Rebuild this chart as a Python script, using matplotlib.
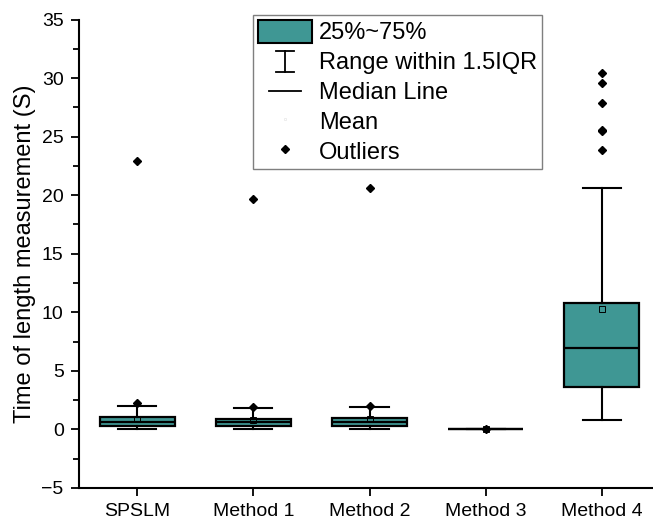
import matplotlib
matplotlib.use("Agg")
import matplotlib.pyplot as plt
from matplotlib.lines import Line2D
from matplotlib.patches import Patch
from matplotlib.legend_handler import HandlerBase
from matplotlib.ticker import MultipleLocator

plt.rcParams['font.family'] = ['Liberation Sans', 'DejaVu Sans']

# box statistics per method (seconds)
methods = ['SPSLM', 'Method 1', 'Method 2', 'Method 3', 'Method 4']
q1s = [0.28, 0.28, 0.28, 0.02, 3.59]
medians = [0.62, 0.60, 0.62, 0.02, 6.92]
q3s = [1.05, 0.90, 1.00, 0.02, 10.77]
whis_lo = [0.06, 0.05, 0.05, 0.02, 0.77]
whis_hi = [2.00, 1.82, 1.88, 0.02, 20.60]
means = [0.90, 0.80, 0.85, 0.02, 10.26]
outliers = [
    [2.28, 22.90],
    [1.90, 19.70],
    [2.00, 20.60],
    [0.02],
    [23.90, 25.45, 25.60, 27.90, 29.60, 30.45],
]

TEAL = '#3f9794'

stats = []
for i, name in enumerate(methods):
    stats.append(dict(label=name, q1=q1s[i], med=medians[i], q3=q3s[i],
                      whislo=whis_lo[i], whishi=whis_hi[i], mean=means[i],
                      fliers=outliers[i]))

fig = plt.figure(figsize=(6.53, 5.21), dpi=100)
ax = fig.add_axes([79 / 653, 33 / 521, 581 / 653, 468.5 / 521])

ax.bxp(stats, positions=range(1, 6), widths=0.645, capwidths=0.33,
       patch_artist=True, showmeans=True,
       boxprops=dict(facecolor=TEAL, edgecolor='black', linewidth=1.6),
       medianprops=dict(color='black', linewidth=1.6),
       whiskerprops=dict(color='black', linewidth=1.5),
       capprops=dict(color='black', linewidth=1.5),
       flierprops=dict(marker='D', markersize=4, markerfacecolor='black',
                       markeredgecolor='black'),
       meanprops=dict(marker='s', markersize=4.5, markerfacecolor='none',
                      markeredgecolor='black', markeredgewidth=0.7))

ax.set_xlim(0.5, 5.5)
ax.set_ylim(-5, 35)
ax.yaxis.set_major_locator(MultipleLocator(5))
ax.yaxis.set_minor_locator(MultipleLocator(2.5))
ax.set_xticks(range(1, 6))
ax.set_xticklabels(methods)
ax.tick_params(axis='both', which='major', direction='out', length=6,
               width=1.3, labelsize=14, pad=5)
ax.tick_params(axis='y', which='minor', direction='out', length=4, width=1.3)
ax.set_ylabel('Time of length measurement (S)', fontsize=17, labelpad=4)
ax.spines['top'].set_visible(False)
ax.spines['right'].set_visible(False)
ax.spines['left'].set_linewidth(1.5)
ax.spines['bottom'].set_linewidth(1.5)


class IBeamHandler(HandlerBase):
    """legend key shaped like a whisker with caps"""
    def create_artists(self, legend, orig_handle, xdescent, ydescent,
                       width, height, fontsize, trans):
        cx = width / 2 - xdescent
        lo, hi = -ydescent + 1, height - ydescent - 1
        half = width * 0.16
        lines = [
            Line2D([cx, cx], [lo, hi]),
            Line2D([cx - half, cx + half], [lo, lo]),
            Line2D([cx - half, cx + half], [hi, hi]),
        ]
        for ln in lines:
            ln.set_color('black')
            ln.set_linewidth(1.3)
            ln.set_transform(trans)
        return lines


class ShortLineHandler(HandlerBase):
    """short horizontal key for the median line"""
    def create_artists(self, legend, orig_handle, xdescent, ydescent,
                       width, height, fontsize, trans):
        cx = width / 2 - xdescent
        cy = height / 2 - ydescent
        half = width * 0.3
        ln = Line2D([cx - half, cx + half], [cy, cy], color='black',
                    linewidth=1.3, transform=trans)
        return [ln]


whisker_key = object()
median_key = object()
handles = [
    Patch(facecolor=TEAL, edgecolor='black', linewidth=1.5),
    whisker_key,
    median_key,
    Line2D([], [], linestyle='none', marker='s', markersize=2,
           markerfacecolor='none', markeredgecolor='#e6e6e6', markeredgewidth=0.5),
    Line2D([], [], linestyle='none', marker='D', markersize=4,
           color='black'),
]
labels = ['25%~75%', 'Range within 1.5IQR', 'Median Line', 'Mean', 'Outliers']
leg = ax.legend(handles, labels, loc='upper left',
                bbox_to_anchor=(253 / 653, 1 - 15 / 521),
                bbox_transform=fig.transFigure, borderaxespad=0,
                fontsize=17, handlelength=2.3, handleheight=1.15,
                handletextpad=0.3, labelspacing=0.22, borderpad=0.2,
                fancybox=False, framealpha=1,
                handler_map={whisker_key: IBeamHandler(),
                             median_key: ShortLineHandler()})
leg.get_frame().set_edgecolor('#7f7f7f')
leg.get_frame().set_linewidth(1.0)

fig.savefig('out.png', dpi=100)
